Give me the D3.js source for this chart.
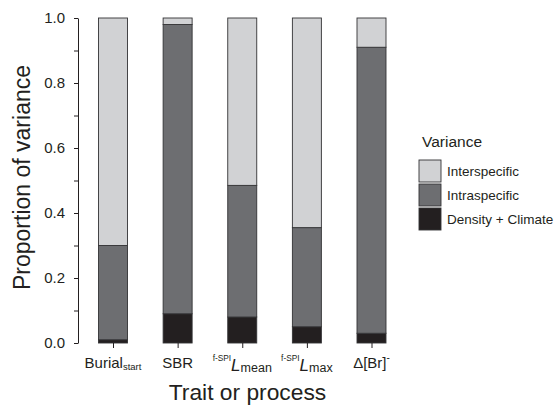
<!DOCTYPE html>
<html>
<head>
<meta charset="utf-8">
<script src="https://cdn.jsdelivr.net/npm/d3@7"></script>
<style>
  html, body { margin: 0; padding: 0; background: #fff; }
  svg { display: block; font-family: "Liberation Sans", Arial, sans-serif; }
</style>
</head>
<body>
<svg id="chart" width="554" height="407"></svg>
<script>
// Variance partitioning for each trait or process
const categories = ["Burial_start", "SBR", "fSPI_Lmean", "fSPI_Lmax", "dBr"];
const densityClimate = [0.01, 0.09, 0.08, 0.05, 0.03];
const intraspecific  = [0.29, 0.89, 0.405, 0.305, 0.88];
const interspecific  = [0.70, 0.02, 0.515, 0.645, 0.09];
const seriesNames = ["Density + Climate", "Intraspecific", "Interspecific"];
const yTicks = [0, 0.1, 0.2, 0.3, 0.4, 0.5, 0.6, 0.7, 0.8, 0.9, 1.0];

// Label markup (sub/superscripts) per category
const labelParts = {
  "Burial_start": [
    { t: "Burial", size: 15, dy: 0 },
    { t: "start", size: 9.5, dy: 2 }
  ],
  "SBR": [
    { t: "SBR", size: 15, dy: 0 }
  ],
  "fSPI_Lmean": [
    { t: "f-SPI", size: 8.3, dy: -7 },
    { t: "L", size: 17, dy: 10.5, italic: true },
    { t: "mean", size: 12.5, dy: 0.5 }
  ],
  "fSPI_Lmax": [
    { t: "f-SPI", size: 8.3, dy: -7 },
    { t: "L", size: 17, dy: 10.5, italic: true },
    { t: "max", size: 12.5, dy: 0.5 }
  ],
  "dBr": [
    { t: "\u0394[Br]", size: 15, dy: 0 },
    { t: "-", size: 10, dy: -7 }
  ]
};

const colors = { "Density + Climate": "#231f20", "Intraspecific": "#6d6e71", "Interspecific": "#d1d2d4" };
const legendOrder = ["Interspecific", "Intraspecific", "Density + Climate"];

const rows = categories.map((c, i) => ({
  cat: c,
  "Density + Climate": densityClimate[i],
  "Intraspecific": intraspecific[i],
  "Interspecific": interspecific[i]
}));

const svg = d3.select("#chart");
const ink = "#231f20";

const x = d3.scalePoint().domain(categories).range([113, 371.5]).padding(0);
const y = d3.scaleLinear().domain([0, 1]).range([343, 18]);
const barW = 29;

const stack = d3.stack().keys(seriesNames);
const layers = stack(rows);

// Bars
svg.append("g")
  .selectAll("g")
  .data(layers)
  .join("g")
  .attr("fill", d => colors[d.key])
  .selectAll("rect")
  .data(d => d)
  .join("rect")
  .attr("x", d => x(d.data.cat) - barW / 2)
  .attr("y", d => y(d[1]))
  .attr("width", barW)
  .attr("height", d => y(d[0]) - y(d[1]))
  .attr("stroke", "#333335")
  .attr("stroke-width", 0.9);

// Y axis
const yAxis = d3.axisLeft(y)
  .tickValues(yTicks)
  .tickSize(4)
  .tickSizeOuter(0)
  .tickPadding(9)
  .tickFormat(d => (Math.round(d * 10) % 2 === 0 ? d3.format(".1f")(d) : ""));

const gy = svg.append("g").attr("transform", "translate(78,0)").call(yAxis);
gy.select(".domain").attr("stroke", ink);
gy.selectAll(".tick line").attr("stroke", ink);
gy.selectAll(".tick text")
  .attr("fill", ink)
  .style("font-size", "15px")
  .style("font-family", "'Liberation Sans', Arial, sans-serif");

// X axis ticks
const xAxis = d3.axisBottom(x).tickSize(5).tickSizeOuter(0).tickFormat("");
const gx = svg.append("g").attr("transform", "translate(0,343)").call(xAxis);
gx.select(".domain").remove();
gx.selectAll(".tick line").attr("stroke", ink);

// Category labels with sub/superscripts
const labels = svg.append("g").attr("fill", ink);
categories.forEach(c => {
  const t = labels.append("text")
    .attr("x", x(c))
    .attr("y", 367.5)
    .attr("text-anchor", "middle");
  labelParts[c].forEach(p => {
    t.append("tspan")
      .attr("dy", p.dy)
      .style("font-size", p.size + "px")
      .style("font-style", p.italic ? "italic" : "normal")
      .text(p.t);
  });
});

// Axis titles
svg.append("text")
  .attr("x", 247.5)
  .attr("y", 400)
  .attr("text-anchor", "middle")
  .attr("fill", ink)
  .style("font-size", "22.8px")
  .text("Trait or process");

svg.append("text")
  .attr("transform", "translate(30,177.5) rotate(-90)")
  .attr("text-anchor", "middle")
  .attr("fill", ink)
  .style("font-size", "23px")
  .text("Proportion of variance");

// Legend
const legend = svg.append("g").attr("transform", "translate(419,0)");
legend.append("text")
  .attr("x", 3)
  .attr("y", 147)
  .attr("fill", ink)
  .style("font-size", "15.5px")
  .text("Variance");

const items = legend.selectAll("g.item")
  .data(legendOrder)
  .join("g")
  .attr("class", "item")
  .attr("transform", (d, i) => `translate(0,${160 + i * 24})`);

items.append("rect")
  .attr("width", 22)
  .attr("height", 22)
  .attr("fill", d => colors[d])
  .attr("stroke", "#333335")
  .attr("stroke-width", 0.9);

items.append("text")
  .attr("x", 28)
  .attr("y", 16)
  .attr("fill", ink)
  .style("font-size", "13.5px")
  .text(d => d);
</script>
</body>
</html>
